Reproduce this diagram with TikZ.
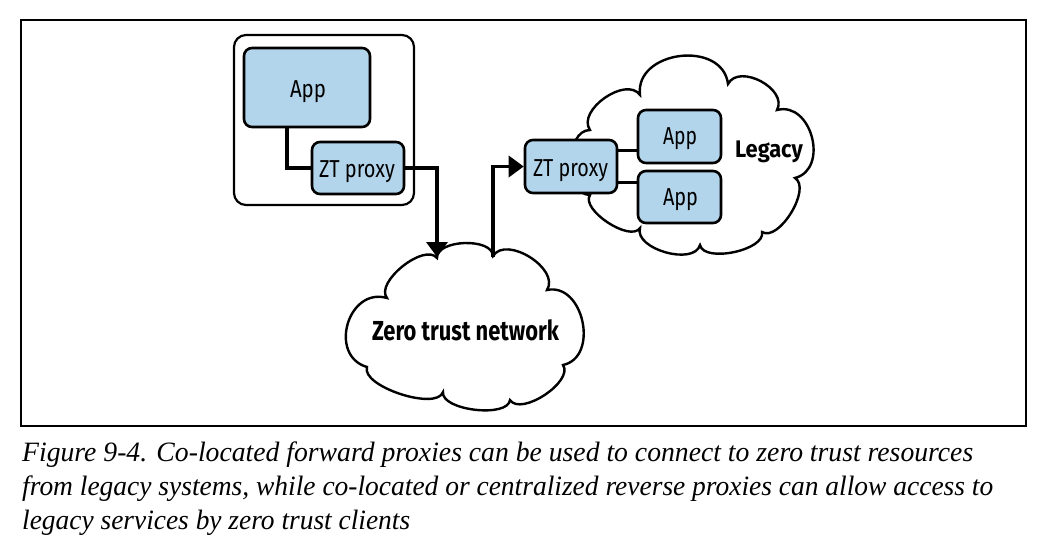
\documentclass[tikz,border=0pt]{standalone}
\usepackage{fontspec}
\setmainfont{Liberation Serif}
\newfontfamily\diagfont{Fira Sans}
\usetikzlibrary{arrows.meta}
\definecolor{boxblue}{RGB}{179,213,235}
\newcommand\fitw[2]{\resizebox{#1}{\height}{#2}}
\begin{document}
\begin{tikzpicture}[x=1pt,y=-1pt,
  bluebox/.style={draw=black, line width=2.6pt, fill=boxblue, rounded corners=8pt, inner sep=0pt},
  hostbox/.style={draw=black, line width=2.2pt, rounded corners=12pt, inner sep=0pt},
  cloudline/.style={draw=black, line width=2.4pt, fill=white},
  link/.style={draw=black, line width=3.6pt},
  flow/.style={link, -{Triangle[length=15pt,width=21pt]}},
  lbl/.style={font=\diagfont\fontsize{24.5}{24.5}\selectfont, anchor=base, inner sep=0pt},
  blbl/.style={font=\diagfont\bfseries\fontsize{24}{24}\selectfont, anchor=base, inner sep=0pt},
  zlbl/.style={font=\diagfont\bfseries\fontsize{27.5}{27.5}\selectfont, anchor=base, inner sep=0pt},
  captxt/.style={font=\itshape\fontsize{28}{28}\selectfont, anchor=base west, inner sep=0pt}
]
\useasboundingbox (0,0) rectangle (1043,552);
% frame
\draw[line width=2pt] (21,20) rectangle (1026,426);

% zero trust network cloud
\draw[cloudline] (437,258) to[bend left=90,looseness=0.85] (493,256)
  to[bend left=90,looseness=1.0] (547,290)
  to[bend left=90,looseness=1.25] (563,365)
  to[bend left=90,looseness=0.8] (510,400)
  to[bend left=90,looseness=0.7] (443,392)
  to[bend left=90,looseness=0.65] (367,367)
  to[bend left=90,looseness=1.45] (387,298)
  to[bend left=90,looseness=0.8] (437,258) -- cycle;
\coordinate (ztin) at (437,257);
\coordinate (ztout) at (493,257);
\node[zlbl] (ztnet) at (465.5,340) {\fitw{187pt}{Zero trust network}};

% legacy cloud
\draw[cloudline] (590,130) to[bend left=90,looseness=1.0] (640,95)
  to[bend left=90,looseness=1.3] (728,84)
  to[bend left=90,looseness=1.1] (777,110)
  to[bend left=90,looseness=1.3] (795,178)
  to[bend left=90,looseness=0.8] (762,232)
  to[bend left=90,looseness=0.75] (700,245)
  to[bend left=90,looseness=0.9] (640,228)
  to[bend left=90,looseness=0.75] (590,195)
  to[bend left=90,looseness=1.0] (590,130) -- cycle;
\node[blbl] (legacy) at (769,157) {\fitw{68pt}{Legacy}};

% host
\node[hostbox, minimum width=180pt, minimum height=170pt] (host) at (324,120) {};
\node[bluebox, minimum width=126pt, minimum height=79pt] (app1) at (307,87.5) {};
\node[bluebox, minimum width=92pt, minimum height=52pt] (proxy1) at (358,168) {};
\node[lbl] (app1t) at (308,97) {\fitw{36pt}{App}};
\node[lbl] (proxy1t) at (357,177) {\fitw{76pt}{ZT proxy}};

% legacy side boxes
\node[bluebox, minimum width=92pt, minimum height=53pt] (proxy2) at (571,166.5) {};
\node[bluebox, minimum width=83pt, minimum height=53pt] (app2) at (679.5,136.5) {};
\node[bluebox, minimum width=83pt, minimum height=52pt] (app3) at (679.5,197) {};
\node[lbl] (proxy2t) at (570.5,176) {\fitw{75pt}{ZT proxy}};
\node[lbl] (app2t) at (680,144) {\fitw{34pt}{App}};
\node[lbl] (app3t) at (680.5,205) {\fitw{35pt}{App}};

% connectors
\draw[link] ([xshift=44pt]app1.south west) |- (proxy1.west);
\draw[link] ([yshift=16pt]proxy2.east) coordinate (c1) -- (c1 -| app2.west);
\draw[link] ([yshift=-16pt]proxy2.east) coordinate (c2) -- (c2 -| app3.west);
\draw[flow] (proxy1.east) -| (ztin);
\draw[flow] (ztout) |- (proxy2.west);

% caption
\node[captxt] (cap1) at (22,461) {\fitw{951pt}{Figure 9-4. Co-located forward proxies can be used to connect to zero trust resources}};
\node[captxt] (cap2) at (22,495) {\fitw{971pt}{from legacy systems, while co-located or centralized reverse proxies can allow access to}};
\node[captxt] (cap3) at (22,529) {\fitw{388pt}{legacy services by zero trust clients}};
\end{tikzpicture}
\end{document}
